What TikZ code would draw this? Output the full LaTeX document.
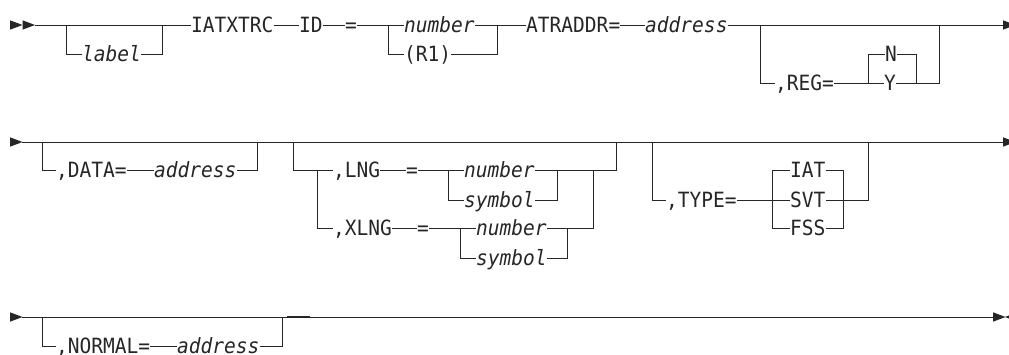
\documentclass[tikz,border=0pt]{standalone}
\usepackage{fontspec}
\newfontfamily\rrfont[FakeStretch=0.93]{DejaVu Sans Mono}
\newfontfamily\rrfontit[FakeStretch=0.93]{DejaVu Sans Mono Oblique}
\definecolor{ink}{HTML}{262626}
\tikzset{
  rr/.style={line width=1pt, draw=ink},
  kw/.style={font=\rrfont\fontsize{21}{24}\selectfont, inner xsep=0pt, inner ysep=0pt,
    text height=14pt, text depth=0pt, anchor=west, text=ink},
  var/.style={kw, font=\rrfontit\fontsize{21}{24}\selectfont},
  kwc/.style={kw, anchor=center},
}
\newcommand{\rarrow}[1]{\fill[ink] ($(#1)+(0,-4.7)$) -- ($(#1)+(12.5,0)$) -- ($(#1)+(0,4.7)$) -- cycle;}
\newcommand{\larrow}[1]{\fill[ink] ($(#1)+(0,0)$) -- ($(#1)+(12,-4.7)$) -- ($(#1)+(12,4.7)$) -- cycle;}
\usetikzlibrary{calc}
\begin{document}
\begin{tikzpicture}[x=1pt,y=-1pt]
\useasboundingbox (0,0) rectangle (1009,354);
\clip (0,0) rectangle (1009,354);
% ---------------- Row 1 ----------------
\coordinate (a1) at (10,25);
\coordinate (a2) at (22.5,25);
\coordinate (r1s) at (35,25);
\rarrow{a1}\rarrow{a2}
\coordinate (lbA) at (66,25);
\coordinate (lbB) at (162,25);
\node[var] (label) at (82,54) {label};
\draw[rr] (lbA) |- (label.west);
\draw[rr] (label.east) -| (lbB);
\node[kw] (iat) at (191,25) {IATXTRC};
\draw[rr] (r1s) -- (iat.west);
\node[kw] (id) at (299,25) {ID};
\draw[rr] (iat.east) -- (id.west);
\node[kwc] (eq1) at (351,25) {=};
\draw[rr] (id.east) -- (eq1.west);
\coordinate (b1L) at (388,25);
\coordinate (b1R) at (497,25);
\node[var] (num1) at (404,25) {number};
\node[kw] (r1) at (404,54) {(R1)};
\draw[rr] (eq1.east) -- (num1.west);
\draw[rr] (b1L) |- (r1.west);
\draw[rr] (r1.east) -| (b1R);
\node[kw] (atr) at (526,25) {ATRADDR=};
\draw[rr] (num1.east) -- (atr.west);
\node[var] (addr1) at (645,25) {address};
\draw[rr] (atr.east) -- (addr1.west);
\coordinate (regL) at (760,25);
\coordinate (regR) at (939,25);
\node[kw] (reg) at (775,83) {,REG=};
\draw[rr] (regL) |- (reg.west);
\coordinate (ynL) at (868,83);
\coordinate (ynR) at (916,83);
\node[kwc] (N) at (891,54) {N};
\node[kwc] (Y) at (890,83) {Y};
\draw[rr] (reg.east) -- (Y.west);
\draw[rr] (ynL) |- (N.west);
\draw[rr] (N.east) -| (ynR);
\draw[rr] (Y.east) -| (regR);
\coordinate (e1) at (1003,25);
\draw[rr] (addr1.east) -- (e1);
\rarrow{e1}
% ---------------- Row 2 ----------------
\coordinate (a3) at (10,142);
\coordinate (s2) at (22,142);
\coordinate (e2) at (1003,142);
\rarrow{a3}
\draw[rr] (s2) -- (e2);
\rarrow{e2}
\coordinate (dL) at (42,142);
\coordinate (dR) at (257,142);
\node[kw] (data) at (56,170) {,DATA=};
\node[var] (addr2) at (154,170) {address};
\draw[rr] (dL) |- (data.west);
\draw[rr] (data.east) -- (addr2.west);
\draw[rr] (addr2.east) -| (dR);
\coordinate (lL) at (293,142);
\coordinate (lR) at (616,142);
\coordinate (lJ) at (317,170);
\node[kw] (lng) at (333,170) {,LNG};
\draw[rr] (lL) |- (lng.west);
\node[kwc] (eq2) at (412,170) {=};
\draw[rr] (lng.east) -- (eq2.west);
\coordinate (n2L) at (448,170);
\coordinate (n2R) at (557,170);
\node[var] (num2) at (464,170) {number};
\node[var] (sym2) at (464,200) {symbol};
\draw[rr] (eq2.east) -- (num2.west);
\draw[rr] (n2L) |- (sym2.west);
\draw[rr] (sym2.east) -| (n2R);
\draw[rr] (num2.east) -| (lR);
\node[kw] (xlng) at (333,228) {,XLNG};
\draw[rr] (lJ) |- (xlng.west);
\node[kwc] (eq3) at (423,228) {=};
\draw[rr] (xlng.east) -- (eq3.west);
\coordinate (n3L) at (460,228);
\coordinate (n3R) at (567,228);
\coordinate (xJ) at (593,170);
\node[var] (num3) at (476,228) {number};
\node[var] (sym3) at (476,258) {symbol};
\draw[rr] (eq3.east) -- (num3.west);
\draw[rr] (n3L) |- (sym3.west);
\draw[rr] (sym3.east) -| (n3R);
\draw[rr] (num3.east) -| (xJ);
\coordinate (tL) at (652,142);
\coordinate (tR) at (868,142);
\node[kw] (type) at (666,200) {,TYPE=};
\draw[rr] (tL) |- (type.west);
\coordinate (t2L) at (772,200);
\coordinate (t2R) at (843,200);
\node[kw] (iat2) at (790,170) {IAT};
\node[kw] (svt) at (790,200) {SVT};
\node[kw] (fss) at (790,228) {FSS};
\draw[rr] (type.east) -- (svt.west);
\draw[rr] (iat2.west) -| (t2L) |- (fss.west);
\draw[rr] (iat2.east) -| (t2R) |- (fss.east);
\draw[rr] (svt.east) -| (tR);
% ---------------- Row 3 ----------------
\coordinate (a4) at (10,317);
\coordinate (s3) at (22,317);
\coordinate (e3) at (993,317);
\coordinate (e3b) at (1005,317);
\rarrow{a4}
\draw[rr] (s3) -- (e3);
\rarrow{e3}\larrow{e3b}
\coordinate (nL) at (42,317);
\coordinate (nR) at (282,317);
\node[kw] (normal) at (56,346) {,NORMAL=};
\node[var] (addr3) at (177,346) {address};
\draw[rr] (nL) |- (normal.west);
\draw[rr] (normal.east) -- (addr3.west);
\draw[rr] (addr3.east) -| (nR);
\coordinate (gA) at (287,317);
\coordinate (gB) at (310,317);
\draw[rr, line width=1.3pt] (gA) -- (gB);
\end{tikzpicture}
\end{document}
